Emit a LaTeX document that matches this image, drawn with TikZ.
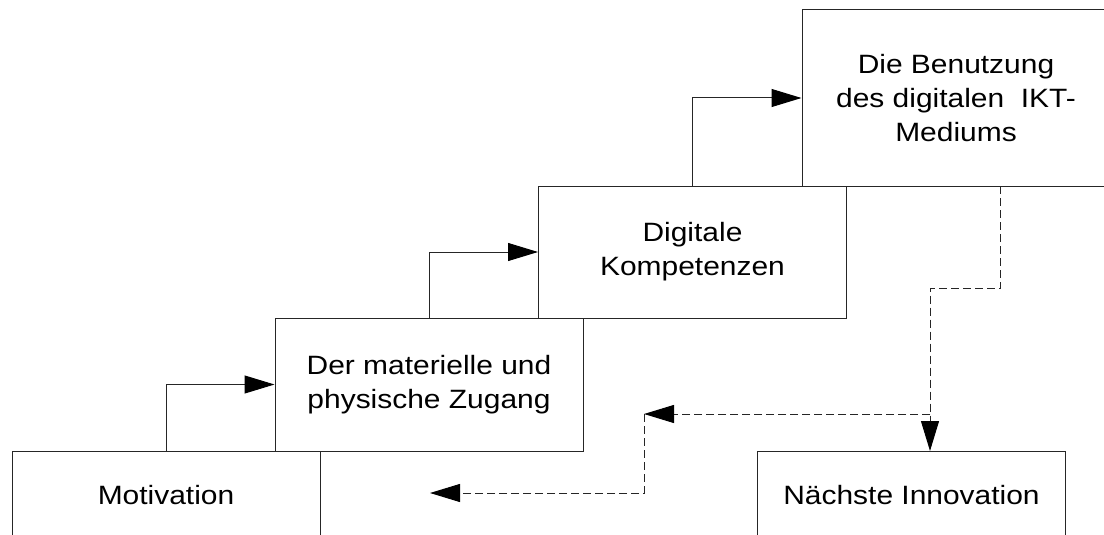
\documentclass[tikz,border=0pt]{standalone}
\usepackage{fontspec}
\setmainfont[FakeStretch=1.13]{Liberation Sans}
\usetikzlibrary{arrows.meta}
\newcommand\boxfont{\fontsize{26.5}{34}\selectfont}
\tikzset{
  stepbox/.style={draw=black!85, line width=1pt, minimum width=308pt, align=center,
    font=\boxfont, inner sep=0pt, rectangle},
  flow/.style={draw=black!85, line width=1pt, -{Triangle[length=30pt,width=18pt,color=black,fill=black]}},
  dflow/.style={flow, dash pattern=on 8pt off 4pt},
}
\begin{document}
\begin{tikzpicture}[x=1pt,y=-1pt]
\clip (0,0) rectangle (1104,535);
\fill[white] (0,0) rectangle (1104,535);
% boxes
\node[stepbox, minimum height=88pt]  (mot) at (166,495)   {Motivation};
\node[stepbox, minimum height=133pt] (der) at (429,384.5) {Der materielle und\\physische Zugang};
\node[stepbox, minimum height=132pt] (dig) at (692.5,252) {Digitale\\Kompetenzen};
\node[stepbox, minimum height=176pt] (ben) at (956,98)    {Die Benutzung\\des digitalen\ \ IKT-\\Mediums};
\node[stepbox, minimum height=88pt]  (inn) at (911.5,495) {N\"achste Innovation};
% solid connectors
\draw[flow] (mot.north) |- (der.west);
\draw[flow] (der.north) |- (dig.west);
\draw[flow] (dig.north) |- (ben.west);
% dashed connectors
\coordinate (dtop) at (1000.5,186);
\coordinate (dturn) at (930,288);
\coordinate (innin) at (930,451);
\coordinate (branch) at (930,414);
\coordinate (mid) at (644,414);
\coordinate (lowend) at (430,493);
\draw[dflow] (dtop) |- (dturn) -- (innin);
\draw[dflow] (branch) -- (mid);
\draw[dflow] (mid) |- (lowend);
\end{tikzpicture}
\end{document}
